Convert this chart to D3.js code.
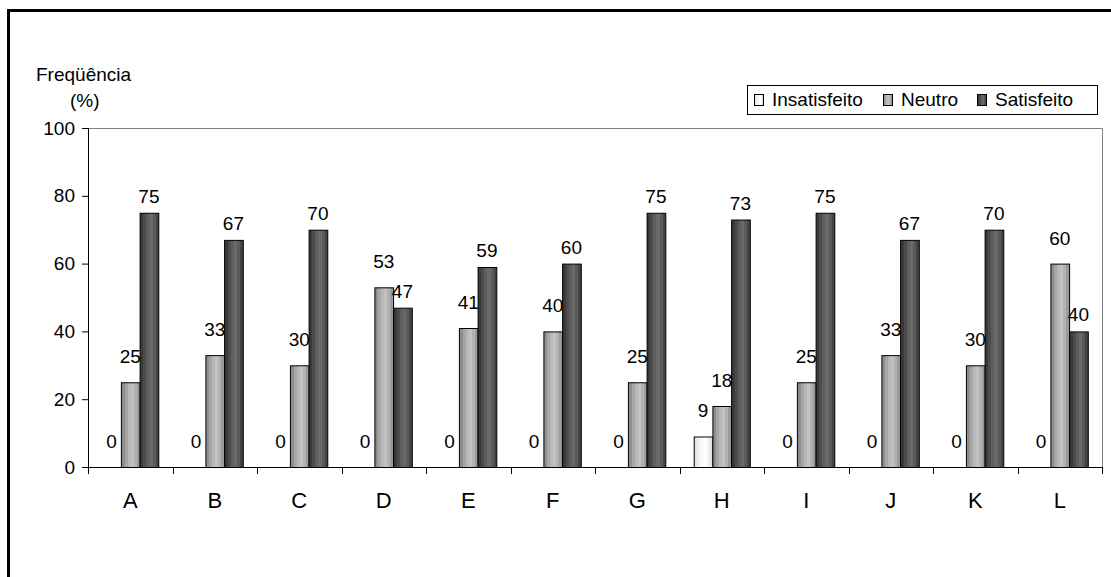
<!DOCTYPE html>
<html>
<head>
<meta charset="utf-8">
<script src="https://cdn.jsdelivr.net/npm/d3@7"></script>
<style>
  html, body { margin: 0; padding: 0; background: #fff; }
  svg { display: block; font-family: "Liberation Sans", Arial, sans-serif; }
</style>
</head>
<body>
<svg id="chart" width="1111" height="577"></svg>
<script>
// Survey answers per item (percent)
const categories = ["A", "B", "C", "D", "E", "F", "G", "H", "I", "J", "K", "L"];
const seriesNames = ["Insatisfeito", "Neutro", "Satisfeito"];
const insatisfeito = [0, 0, 0, 0, 0, 0, 0, 9, 0, 0, 0, 0];
const neutro       = [25, 33, 30, 53, 41, 40, 25, 18, 25, 33, 30, 60];
const satisfeito   = [75, 67, 70, 47, 59, 60, 75, 73, 75, 67, 70, 40];
const yTicks = [0, 20, 40, 60, 80, 100];

const seriesValues = [insatisfeito, neutro, satisfeito];

const svg = d3.select("#chart");
const plot = { left: 88, right: 1102, top: 128, bottom: 467 };

// Striped fills for each series
const stripes = {
  Insatisfeito: ["#e2e2e2", "#f0f0f0", "#fafafa", "#ffffff", "#f4f4f4", "#e4e4e4"],
  Neutro:       ["#8e8e8e", "#a6a6a6", "#b8b8b8", "#c2c2c2", "#b2b2b2", "#9a9a9a"],
  Satisfeito:   ["#3a3a3a", "#4c4c4c", "#5e5e5e", "#6a6a6a", "#5a5a5a", "#444444"]
};
const defs = svg.append("defs");
seriesNames.forEach(name => {
  const g = defs.append("linearGradient")
    .attr("id", "fill-" + name).attr("x1", "0").attr("x2", "1").attr("y1", "0").attr("y2", "0");
  const cols = stripes[name];
  cols.forEach((c, i) => {
    g.append("stop").attr("offset", i / cols.length).attr("stop-color", c);
    g.append("stop").attr("offset", (i + 1) / cols.length).attr("stop-color", c);
  });
});

// Outer frame
svg.append("rect")
  .attr("x", 8.5).attr("y", 10.5)
  .attr("width", 1200).attr("height", 700)
  .attr("fill", "none").attr("stroke", "#000").attr("stroke-width", 3);

const x0 = d3.scaleBand().domain(categories).range([plot.left, plot.right]).padding(0);
const x1 = d3.scaleBand().domain(seriesNames).range([0, x0.bandwidth()])
  .paddingInner(0).paddingOuter(0.76);
const y = d3.scaleLinear().domain([0, 100]).range([plot.bottom, plot.top]);

// Plot-area border (top and right)
svg.append("path")
  .attr("d", `M${plot.left},${plot.top + 0.5}H${plot.right + 0.5}V${plot.bottom}`)
  .attr("fill", "none").attr("stroke", "#808080").attr("stroke-width", 1);

// Bars
const groups = svg.append("g").selectAll("g")
  .data(categories)
  .join("g")
  .attr("transform", d => `translate(${x0(d)},0)`);

groups.selectAll("rect")
  .data((c, i) => seriesNames.map((s, k) => ({ s, v: seriesValues[k][i] })))
  .join("rect")
  .attr("x", d => x1(d.s) + 0.5)
  .attr("y", d => y(d.v) + 0.5)
  .attr("width", x1.bandwidth())
  .attr("height", d => Math.max(0, y(0) - y(d.v)))
  .attr("fill", d => `url(#fill-${d.s})`)
  .attr("stroke", "#000").attr("stroke-width", 1)
  .attr("display", d => d.v > 0 ? null : "none");

// Value labels
const labelGap = { Insatisfeito: 19, Neutro: 19, Satisfeito: 10 };
groups.selectAll("text")
  .data((c, i) => seriesNames.map((s, k) => ({ s, v: seriesValues[k][i] })))
  .join("text")
  .attr("x", d => x1(d.s) + x1.bandwidth() / 2)
  .attr("y", d => y(d.v) - labelGap[d.s])
  .attr("text-anchor", "middle")
  .attr("font-size", 19)
  .attr("fill", "#000")
  .text(d => d.v);

// Y axis
const yAxis = d3.axisLeft(y).tickValues(yTicks).tickSize(6).tickPadding(7);
const gy = svg.append("g").attr("transform", `translate(${plot.left},0)`).call(yAxis);
gy.select(".domain").attr("stroke", "#000").attr("d", `M0.5,${plot.top}V${plot.bottom}`);
gy.selectAll(".tick line").attr("stroke", "#000");
gy.selectAll(".tick text").attr("font-size", 19).attr("fill", "#000")
  .attr("font-family", "Liberation Sans, Arial, sans-serif");

// X axis: ticks on category boundaries
svg.append("line")
  .attr("x1", plot.left).attr("x2", plot.right + 1)
  .attr("y1", plot.bottom + 0.5).attr("y2", plot.bottom + 0.5)
  .attr("stroke", "#000");
const bounds = categories.map(c => x0(c)).concat([plot.right]);
svg.append("g").selectAll("line")
  .data(bounds)
  .join("line")
  .attr("x1", d => Math.round(d) + 0.5).attr("x2", d => Math.round(d) + 0.5)
  .attr("y1", plot.bottom).attr("y2", plot.bottom + 7)
  .attr("stroke", "#000");
svg.append("g").selectAll("text")
  .data(categories)
  .join("text")
  .attr("x", d => x0(d) + x0.bandwidth() / 2)
  .attr("y", 508)
  .attr("text-anchor", "middle")
  .attr("font-size", 22)
  .attr("fill", "#000")
  .text(d => d);

// Axis title
svg.append("text").attr("x", 36).attr("y", 81).attr("font-size", 19).text("Freqüência");
svg.append("text").attr("x", 70).attr("y", 107).attr("font-size", 19).text("(%)");

// Legend
const legend = svg.append("g");
legend.append("rect")
  .attr("x", 747.5).attr("y", 85.5).attr("width", 350).attr("height", 29)
  .attr("fill", "#fff").attr("stroke", "#000").attr("stroke-width", 1);
const legendX = [754, 883, 977];
seriesNames.forEach((s, i) => {
  legend.append("rect")
    .attr("x", legendX[i] + 0.5).attr("y", 94.5).attr("width", 9).attr("height", 11)
    .attr("fill", `url(#fill-${s})`).attr("stroke", "#000").attr("stroke-width", 1);
  legend.append("text")
    .attr("x", legendX[i] + 18).attr("y", 106)
    .attr("font-size", 19).attr("fill", "#000")
    .text(s);
});
</script>
</body>
</html>
